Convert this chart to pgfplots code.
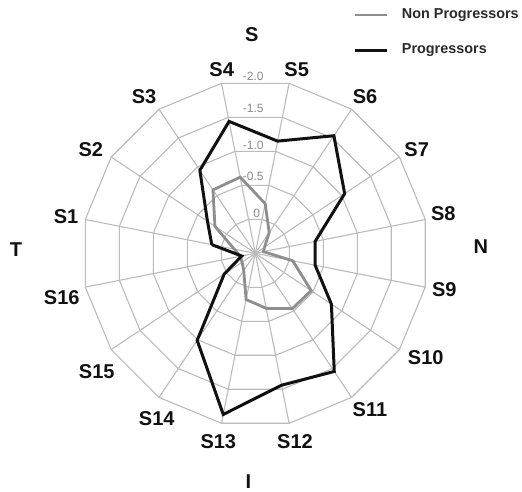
\documentclass[border=0pt]{standalone}
\usepackage{fontspec}
\setmainfont{Liberation Sans}
\usepackage{pgfplots}
\usepackage{pgfplotstable}
\pgfplotsset{compat=1.18}
\definecolor{gridc}{HTML}{BBBBBB}
\definecolor{nonprog}{HTML}{8E8E8E}
\definecolor{prog}{HTML}{111111}
\definecolor{ringlab}{HTML}{8A8A8A}
\definecolor{legtxt}{HTML}{2A2A2A}

% sector, angle (deg), value
\pgfplotstableread{
seg ang v
S1 168.75 0.19
S2 146.25 -0.20
S3 123.75 -0.60
S4 101.25 -0.62
S5 78.75 -0.23
S6 56.25 0.14
S7 33.75 0.34
S8 11.25 0.38
S9 -11.25 -0.05
S10 -33.75 -0.47
S11 -56.25 -0.46
S12 -78.75 -0.31
S13 -101.25 -0.18
S14 -123.75 0.20
S15 -146.25 0.27
S16 -168.75 0.28
S1 -191.25 0.19
}\nonprogdata

\pgfplotstableread{
seg ang v
S1 168.75 -0.14
S2 146.25 -0.33
S3 123.75 -0.94
S4 101.25 -1.44
S5 78.75 -1.15
S6 56.25 -1.54
S7 33.75 -1.05
S8 11.25 -0.38
S9 -11.25 -0.38
S10 -33.75 -0.82
S11 -56.25 -1.55
S12 -78.75 -1.44
S13 -101.25 -1.87
S14 -123.75 -1.01
S15 -146.25 -0.04
S16 -168.75 0.30
S1 -191.25 -0.14
}\progdata

\begin{document}
\begin{tikzpicture}
\begin{axis}[
  width=522pt, height=492pt, scale only axis,
  xmin=-3.683, xmax=3.847, ymin=-3.443, ymax=3.654,
  hide axis, clip=false,
]
% polygonal rings (0, -0.5, -1.0, -1.5, -2.0)
\pgfplotsinvokeforeach{0.5,1,1.5,2,2.5}{
  \addplot[gridc, line width=1.1pt, data cs=polar, no marks, forget plot]
    coordinates {(11.25,#1) (33.75,#1) (56.25,#1) (78.75,#1) (101.25,#1)
      (123.75,#1) (146.25,#1) (168.75,#1) (191.25,#1) (213.75,#1)
      (236.25,#1) (258.75,#1) (281.25,#1) (303.75,#1) (326.25,#1)
      (348.75,#1) (371.25,#1)};
}
% spokes
\pgfplotsinvokeforeach{11.25,33.75,56.25,78.75,101.25,123.75,146.25,168.75}{
  \addplot[gridc, line width=1.1pt, data cs=polar, no marks, forget plot]
    coordinates {(#1,2.5) (#1,0)};
}
\pgfplotsinvokeforeach{191.25,213.75,236.25,258.75,281.25,303.75,326.25,348.75}{
  \addplot[gridc, line width=1.1pt, data cs=polar, no marks, forget plot]
    coordinates {(#1,2.5) (#1,0)};
}
% ring labels
\begin{scope}[every node/.style={font=\fontsize{12}{14}\selectfont, text=ringlab, inner sep=0pt}]
\node at (axis cs:-0.03,2.553) {-2.0};
\node at (axis cs:-0.03,2.090) {-1.5};
\node at (axis cs:-0.03,1.562) {-1.0};
\node at (axis cs:-0.03,1.105) {-0.5};
\node at (axis cs:0.02,0.577) {0};
\end{scope}

% data
\addplot[nonprog, line width=2.8pt, line join=miter, data cs=polar, no marks]
  table[x=ang, y expr={0.5-\thisrow{v}}] {\nonprogdata};
\addplot[prog, line width=3pt, line join=miter, data cs=polar, no marks]
  table[x=ang, y expr={0.5-\thisrow{v}}] {\progdata};

% sector labels
\begin{scope}[every node/.style={font=\fontsize{20}{24}\selectfont\bfseries, text=prog, inner sep=0pt}]
\node at (axis cs:-2.730,0.528) {S1};
\node at (axis cs:-2.374,1.500) {S2};
\node at (axis cs:-1.605,2.259) {S3};
\node at (axis cs:-0.485,2.644) {S4};
\node at (axis cs:0.597,2.644) {S5};
\node at (axis cs:1.582,2.259) {S6};
\node at (axis cs:2.328,1.500) {S7};
\node at (axis cs:2.712,0.577) {S8};
\node at (axis cs:2.726,-0.519) {S9};
\node at (axis cs:2.458,-1.500) {S10};
\node at (axis cs:1.654,-2.260) {S11};
\node at (axis cs:0.573,-2.717) {S12};
\node at (axis cs:-0.534,-2.717) {S13};
\node at (axis cs:-1.422,-2.380) {S14};
\node at (axis cs:-2.288,-1.708) {S15};
\node at (axis cs:-2.792,-0.635) {S16};
\node at (axis cs:-0.052,3.149) {S};
\node at (axis cs:-3.452,0.048) {T};
\node at (axis cs:3.255,0.095) {N};
\node at (axis cs:-0.101,-3.294) {I};
\end{scope}

% legend
\draw[nonprog, line width=2.8pt] (axis cs:1.438,3.437) -- (axis cs:1.895,3.437);
\draw[prog, line width=3pt] (axis cs:1.438,2.932) -- (axis cs:1.895,2.932);
\node[anchor=west, inner sep=0pt, font=\fontsize{14.4}{17}\selectfont\bfseries, text=legtxt] at (axis cs:2.112,3.437) {Non Progressors};
\node[anchor=west, inner sep=0pt, font=\fontsize{14.4}{17}\selectfont\bfseries, text=legtxt] at (axis cs:2.112,2.932) {Progressors};

\coordinate (BL) at (axis cs:-3.683,-3.443);
\coordinate (TR) at (axis cs:3.847,3.654);
\end{axis}
\pgfresetboundingbox
\path (BL) rectangle (TR);
\end{tikzpicture}
\end{document}
